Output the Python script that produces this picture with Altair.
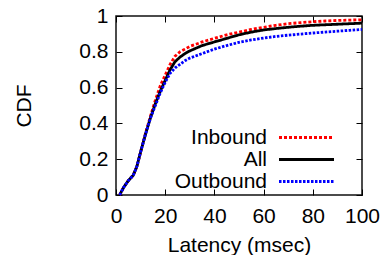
import altair as alt
import pandas as pd

latency = [1.5, 3, 5, 7, 8.5, 10, 12, 14, 16, 18, 20, 22, 24, 26, 28, 30,
           35, 40, 45, 50, 55, 60, 65, 70, 75, 80, 85, 90, 95, 100]
cdf_inbound = [0, 0.04, 0.08, 0.11, 0.16, 0.24, 0.345, 0.44, 0.53, 0.61, 0.67,
               0.73, 0.775, 0.80, 0.815, 0.83, 0.855, 0.875, 0.895, 0.91, 0.925,
               0.937, 0.948, 0.957, 0.963, 0.968, 0.972, 0.975, 0.977, 0.979]
cdf_all = [0, 0.04, 0.08, 0.11, 0.16, 0.24, 0.34, 0.43, 0.51, 0.58, 0.64,
           0.70, 0.745, 0.77, 0.79, 0.805, 0.835, 0.855, 0.875, 0.895, 0.91,
           0.922, 0.93, 0.937, 0.943, 0.948, 0.951, 0.954, 0.957, 0.96]
cdf_outbound = [0, 0.04, 0.08, 0.11, 0.16, 0.24, 0.34, 0.43, 0.50, 0.57, 0.63,
                0.68, 0.71, 0.73, 0.75, 0.765, 0.79, 0.815, 0.835, 0.853, 0.866,
                0.877, 0.886, 0.893, 0.899, 0.905, 0.91, 0.915, 0.92, 0.925]
series = ["Inbound", "All", "Outbound"]
colors = ["#ff0000", "#000000", "#0000ff"]
dashes = [[3, 2], [1, 0], [2.5, 1.5]]
x_ticks = [0, 20, 40, 60, 80, 100]
y_ticks = [0, 0.2, 0.4, 0.6, 0.8, 1]

rows = []
for name, vals in zip(series, [cdf_inbound, cdf_all, cdf_outbound]):
    for x, y in zip(latency, vals):
        rows.append({"latency": x, "cdf": y, "series": name})
df = pd.DataFrame(rows)

FONT = "Liberation Sans"
FS = 21

xscale = alt.Scale(domain=[0, 100], nice=False)
yscale = alt.Scale(domain=[0, 1], nice=False)

main = alt.Chart(df).mark_line(strokeWidth=2.8).encode(
    x=alt.X("latency:Q", scale=xscale,
            axis=alt.Axis(title="Latency (msec)", values=x_ticks, orient="bottom",
                          offset=-6, tickSize=6, domain=False, grid=False,
                          labelFlush=False,
                          labelPadding=10, titlePadding=8, tickColor="#000")),
    y=alt.Y("cdf:Q", scale=yscale,
            axis=alt.Axis(title="CDF", values=y_ticks, format="~g", orient="left",
                          offset=-6, tickSize=6, domain=False, grid=False,
                          labelFlush=False,
                          labelPadding=8, titlePadding=44, tickColor="#000")),
    color=alt.Color("series:N", title=None,
                    scale=alt.Scale(domain=series, range=colors),
                    legend=alt.Legend(orient="none", legendX=180, legendY=111,
                                      symbolType="M-5,0L5,0", symbolSize=121,
                                      symbolStrokeWidth=3, labelAlign="right",
                                      labelOffset={"expr": "-50"},
                                      rowPadding=0,
                                      padding=0, labelFontSize=FS, labelFont=FONT,
                                      labelColor="#000")),
    strokeDash=alt.StrokeDash("series:N", title=None,
                              scale=alt.Scale(domain=series, range=dashes)),
)

mirror = alt.Chart(df).mark_line(opacity=0).encode(
    x=alt.X("latency:Q", scale=xscale,
            axis=alt.Axis(title=None, values=x_ticks, orient="top", labels=False,
                          offset=-6, tickSize=6, domain=False, grid=False,
                          tickColor="#000")),
    y=alt.Y("cdf:Q", scale=yscale,
            axis=alt.Axis(title=None, values=y_ticks, orient="right", labels=False,
                          offset=-6, tickSize=6, domain=False, grid=False,
                          tickColor="#000")),
    detail="series:N",
)

chart = alt.layer(main, mirror).resolve_axis(
    x="independent", y="independent"
).properties(
    width=246, height=179,
    autosize=alt.AutoSizeParams(type="none"),
    padding={"left": 108, "top": 8, "right": 20, "bottom": 60},
).configure_view(
    stroke="#111", strokeWidth=1.5
).configure_axis(
    labelFont=FONT, titleFont=FONT, labelFontSize=FS, titleFontSize=FS,
    labelColor="#000", titleColor="#000", titleFontWeight="normal"
).configure_legend(
    labelFont=FONT
)

chart.save("out.html", embed_options={"renderer": "svg", "actions": False})
